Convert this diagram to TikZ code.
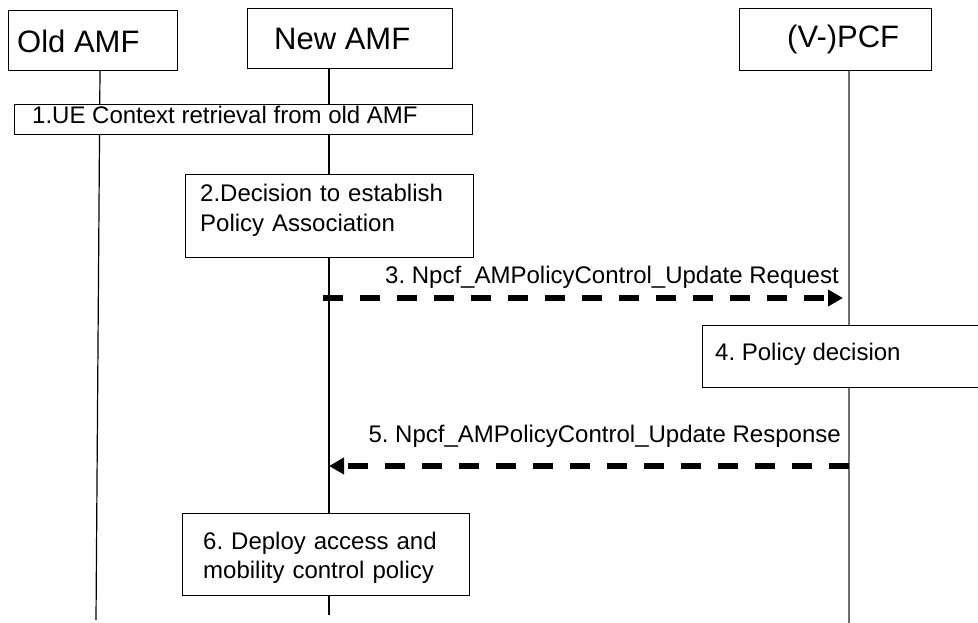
\documentclass[tikz,border=0pt]{standalone}
\usepackage{fontspec}
\setmainfont{Liberation Sans}
\usetikzlibrary{arrows.meta}
\frenchspacing
\begin{document}
\begin{tikzpicture}[x=1pt,y=-1pt,
  box/.style={draw=black, line width=1.3pt, fill=white, inner sep=0pt, anchor=north west},
  lab/.style={font=\fontsize{24}{30}\selectfont\frenchspacing, inner sep=0pt, anchor=base west},
  rlab/.style={font=\fontsize{24}{30}\selectfont\frenchspacing, inner sep=0pt, anchor=base east},
  mlab/.style={font=\fontsize{24}{30}\selectfont\frenchspacing, inner sep=0pt, anchor=base west, text width=280pt, align=left},
  head/.style={font=\fontsize{31}{36}\selectfont, inner sep=0pt, anchor=base west},
  life/.style={line width=1.2pt, black},
  glife/.style={line width=2pt, draw={rgb,255:red,110;green,110;blue,110}},
  msg/.style={line width=6pt, dash pattern=on 20pt off 17pt, -{Triangle[length=15pt,width=16pt]}}]
\useasboundingbox (0,0) rectangle (978,623);
% lifeline end points
\coordinate (oldT) at (100,70);
\coordinate (oldB) at (96,620);
\coordinate (newT) at (329,68);
\coordinate (newB) at (329,615);
\coordinate (pcfT) at (849,70);
\coordinate (pcfB) at (849,623);
\draw[life] (oldT) -- (oldB);
\draw[life] (newT) -- (newB);
\draw[glife] (pcfT) -- (pcfB);
% header boxes
\node[box, minimum width=169pt, minimum height=60pt] (bOld) at (8,10) {};
\node[box, minimum width=205pt, minimum height=60pt] (bNew) at (247,8) {};
\node[box, minimum width=192pt, minimum height=62pt] (bPcf) at (739,8) {};
\node[head] (tOld) at (17,53) {Old AMF};
\node[head] (tNew) at (274,50) {New AMF};
\node[head] (tPcf) at (787,48) {(V-)PCF};
% step 1
\node[box, minimum width=458pt, minimum height=30pt] (b1) at (14,104) {};
\node[lab] (t1) at (32,123.5) {1.UE Context retrieval from old AMF};
% step 2
\node[box, minimum width=288pt, minimum height=83pt] (b2) at (185,174) {};
\node[mlab] (t2) at (200,201) {2.Decision to establish\\Policy Association};
% step 3
\coordinate (m3s) at (323,298);
\coordinate (m3e) at (843,298);
\draw[msg] (m3s) -- (m3e);
\node[rlab] (t3) at (839,283) {3. Npcf\_AMPolicyControl\_Update Request};
% step 4
\node[box, minimum width=290pt, minimum height=62pt] (b4) at (702,325) {};
\node[lab] (t4) at (715,360) {4. Policy decision};
% step 5
\coordinate (m5s) at (849,466);
\coordinate (m5e) at (329,466);
\draw[msg] (m5s) -- (m5e);
\node[rlab] (t5) at (841,442) {5. Npcf\_AMPolicyControl\_Update Response};
% step 6
\node[box, minimum width=287pt, minimum height=82pt] (b6) at (182,513) {};
\node[mlab, font=\fontsize{24}{29.5}\selectfont\frenchspacing] (t6) at (203,549) {6. Deploy access and\\mobility control policy};
\end{tikzpicture}
\end{document}
